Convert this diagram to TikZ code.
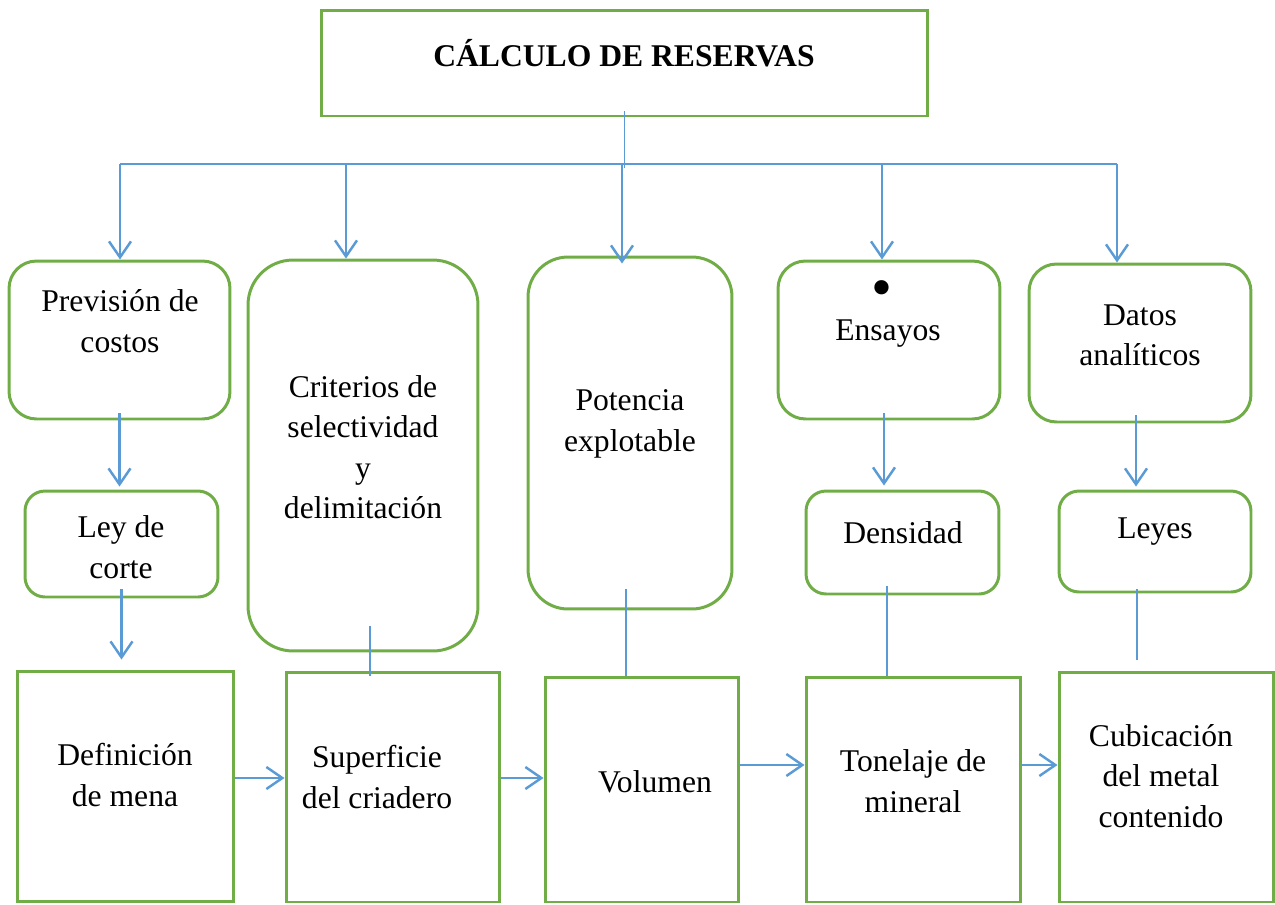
\documentclass[tikz,border=0pt]{standalone}
\usepackage{fontspec}
\setmainfont{Liberation Serif}
\usetikzlibrary{calc,arrows.meta}

\definecolor{boxgreen}{HTML}{70AD47}
\definecolor{linkblue}{HTML}{5B9BD5}

\tikzset{
  box/.style={draw=boxgreen, line width=1.7pt, inner sep=0pt},
  rbox/.style={box, rounded corners=0.55cm},
  txt/.style={align=center, font=\fontsize{18}{23}\selectfont, inner sep=0pt},
  arr/.style={draw=linkblue, line width=1.4pt, -{Straight Barb[length=0.32cm, width=0.44cm]}},
  link/.style={draw=linkblue, line width=1.4pt},
  thinlink/.style={draw=linkblue, line width=0.7pt},
}

\begin{document}
\begin{tikzpicture}[x=0.02cm, y=-0.02cm]

	\useasboundingbox (0,0) rectangle (1275,904);

	% title
	\node[box, minimum width=12.14cm, minimum height=2.12cm] (title) at (624.5,63) {};
	\node[txt] (titlet) at (624,53) {\textbf{CÁLCULO DE RESERVAS}};

	% first row
	\node[rbox, minimum width=4.42cm, minimum height=3.16cm] (prev) at (119.5,340) {};
	\node[rbox, rounded corners=0.9cm, minimum width=4.6cm, minimum height=7.82cm] (crit) at (363,455.5) {};
	\node[rbox, rounded corners=0.8cm, minimum width=4.08cm, minimum height=7.04cm] (pot) at (630,433) {};
	\node[rbox, minimum width=4.44cm, minimum height=3.16cm] (ens) at (889,340) {};
	\node[rbox, minimum width=4.44cm, minimum height=3.16cm] (datos) at (1140,343) {};

	\node[txt] (prevt) at (120,321) {Previsión de\\costos};
	\node[txt] (critt) at (363,447) {Criterios de\\selectividad\\y\\delimitación};
	\node[txt] (pott) at (630,424) {Potencia\\explotable};
	\node[txt] (ensb) at (882,294) {\fontsize{34}{34}\selectfont\textbullet};
	\node[txt] (enst) at (888,334) {Ensayos};
	\node[txt] (datost) at (1140,335) {Datos\\analíticos};

	% second row
	\node[rbox, rounded corners=0.4cm, minimum width=3.86cm, minimum height=2.12cm] (ley) at (121.5,544) {};
	\node[rbox, rounded corners=0.4cm, minimum width=3.86cm, minimum height=2.06cm] (dens) at (902.5,542.5) {};
	\node[rbox, rounded corners=0.4cm, minimum width=3.84cm, minimum height=2.02cm] (leyes) at (1155,541.5) {};

	\node[txt] (leyt) at (121,547) {Ley de\\corte};
	\node[txt] (denst) at (903,533) {Densidad};
	\node[txt] (leyest) at (1155,532) {Leyes};

	% bottom row
	\node[box, minimum width=4.34cm, minimum height=4.62cm] (def) at (125.5,786.5) {};
	\node[box, minimum width=4.28cm, minimum height=4.6cm] (sup) at (393,787) {};
	\node[box, minimum width=3.88cm, minimum height=4.5cm] (vol) at (642,789.5) {};
	\node[box, minimum width=4.3cm, minimum height=4.5cm] (ton) at (913.5,789.5) {};
	\node[box, minimum width=4.3cm, minimum height=4.6cm] (cub) at (1166.5,787) {};

	\node[txt] (deft) at (125,775) {Definición\\de mena};
	\node[txt] (supt) at (377,777) {Superficie\\del criadero};
	\node[txt] (volt) at (655,782) {Volumen};
	\node[txt] (tont) at (913,781) {Tonelaje de\\mineral};
	\node[txt] (cubt) at (1161,776) {Cubicación\\del metal\\contenido};

	% bus below the title
	\coordinate (b1) at (120,164);
	\coordinate (b2) at (346,164);
	\coordinate (b3) at (622,164);
	\coordinate (b4) at (882,164);
	\coordinate (b5) at (1117,164);

	\draw[thinlink, shorten <=-0.12cm, shorten >=-0.08cm] (title.south) -- (title.south |- b3);
	\draw[link] (b1) -- (b5);
	\foreach \b/\n in {b1/prev, b2/crit, b4/ens, b5/datos}
		\draw[arr] (\b) -- (\b |- \n.north);
	\draw[arr, shorten >=-0.16cm] (b3) -- (b3 |- pot.north);

	% vertical links
	\coordinate (xcrit) at (370,0);
	\coordinate (xpot) at (626,0);
	\coordinate (xens) at (884,0);
	\coordinate (xdens) at (887,0);
	\coordinate (xdatos) at (1136,0);
	\coordinate (xleyes) at (1137,0);

	\draw[arr, shorten <=-0.14cm, shorten >=0.06cm] (prev.south) -- (prev.south |- ley.north);
	\draw[arr, shorten <=-0.18cm, shorten >=0.2cm] (ley.south) -- (ley.south |- def.north);
	\draw[arr, shorten <=-0.14cm, shorten >=0.08cm] (ens.south -| xens) -- (dens.north -| xens);
	\draw[arr, shorten <=-0.16cm, shorten >=0.06cm] (datos.south -| xdatos) -- (leyes.north -| xdatos);

	\draw[thinlink, shorten <=-0.52cm, shorten >=-0.1cm] (crit.south -| xcrit) -- (sup.north -| xcrit);
	\draw[thinlink, shorten <=-0.42cm] (pot.south -| xpot) -- (vol.north -| xpot);
	\draw[thinlink, shorten <=-0.18cm] (dens.south -| xdens) -- (ton.north -| xdens);
	\draw[thinlink, shorten <=-0.08cm, shorten >=0.22cm] (leyes.south -| xleyes) -- (cub.north -| xleyes);

	% horizontal arrows
	\coordinate (ya) at (0,778);
	\coordinate (yb) at (0,765);

	\draw[arr] (def.east |- ya) -- (sup.west |- ya);
	\draw[arr] (sup.east |- ya) -- (vol.west |- ya);
	\draw[arr] (vol.east |- yb) -- (ton.west |- yb);
	\draw[arr] (ton.east |- yb) -- (cub.west |- yb);

\end{tikzpicture}
\end{document}
